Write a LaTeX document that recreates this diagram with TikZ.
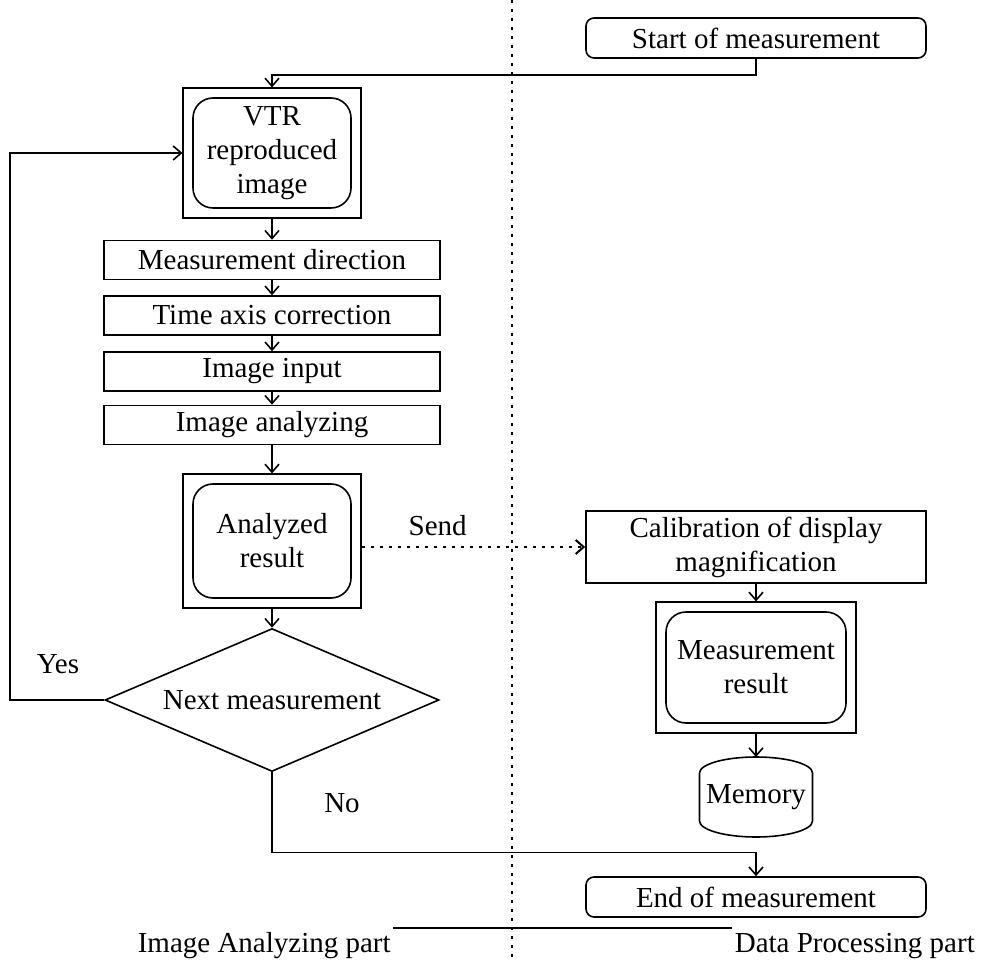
\documentclass[tikz,border=0pt]{standalone}
\usepackage{fontspec}
\setmainfont{Liberation Serif}
\usetikzlibrary{shapes.geometric,arrows.meta,fit}

\begin{document}
\begin{tikzpicture}[x=0.5pt,y=-0.5pt,
	font=\fontsize{14.5pt}{17pt}\selectfont,
	line width=0.8pt, >={Straight Barb[length=4pt,width=7pt]},
	proc/.style={draw,rectangle,minimum width=168pt,minimum height=19.5pt,inner sep=0pt},
	term/.style={draw,rounded corners=4pt,minimum width=170pt,minimum height=20pt,inner sep=0pt},
	res/.style={draw,rounded corners=10pt,align=center,inner sep=0pt},
	frame/.style={draw,rectangle,inner sep=4.4pt,line width=1pt},
	dotline/.style={dash pattern=on 1.5pt off 3pt,line width=1pt}]
			\useasboundingbox (0,0) rectangle (983,961);
			\draw[dotline] (512,0) coordinate (divtop) -- (512,961) coordinate (divbot);
			% left part
			\node[term] (start) at (756,38) {Start of measurement};
			\node[res,minimum width=79pt,minimum height=55pt] (vtr) at (272,153) {VTR\\reproduced\\image};
			\node[frame,fit=(vtr)] (vtrf) {};
			\node[proc] (md) at (272,260) {Measurement direction};
			\node[proc] (ta) at (272,315.5) {Time axis correction};
			\node[proc] (ii) at (272,371.5) {Image input};
			\node[proc] (ia) at (272,425) {Image analyzing};
			\node[res,minimum width=79pt,minimum height=57pt] (ar) at (272,541) {Analyzed\\result};
			\node[frame,fit=(ar)] (arf) {};
			\node[draw,diamond,aspect=2.33,inner sep=0pt,minimum width=167pt,minimum height=71.5pt] (next) at (272,700) {Next measurement};
			\node (yeslbl) at (58,664) {Yes};
			\node (nolbl) at (342,803) {No};
			% right part
			\node[draw,rectangle,align=center,minimum width=170pt,minimum height=36pt,inner sep=0pt] (cal) at (756,547) {Calibration of display\\magnification};
			\node[res,minimum width=90pt,minimum height=55.5pt] (mr) at (756,667.5) {Measurement\\result};
			\node[frame,fit=(mr)] (mrf) {};
			\node[minimum width=56.5pt,minimum height=24pt,inner sep=0pt,outer sep=0pt] (mem) at (756,797) {Memory};
			\draw (mem.north west) -- (mem.south west) arc[start angle=180,end angle=360,x radius=28.25pt,y radius=8pt]
				-- (mem.north east) arc[start angle=0,end angle=180,x radius=28.25pt,y radius=8pt];
			\node[term] (end) at (756,897) {End of measurement};
			\node[anchor=base west,inner sep=1pt] (iapart) at (135,952) {Image Analyzing part};
			\node[anchor=base west,inner sep=1pt] (dppart) at (732,952) {Data Processing part};
			% connectors
			\coordinate (yesc) at (10,700);
			\coordinate (partc) at (0,928);
			\draw[->] (start.south) -- ++(0,16) -| (vtrf.north);
			\draw[->] (vtrf.south) -- (md.north);
			\draw[->] (md.south) -- (ta.north);
			\draw[->] (ta.south) -- (ii.north);
			\draw[->] (ii.south) -- (ia.north);
			\draw[->] (ia.south) -- (arf.north);
			\draw[->] (arf.south) -- (next.north);
			\draw[->] (next.west) -- (yesc) |- (vtrf.west);
			\draw[->] (next.south) -- ++(0,80) -| (end.north);
			\draw[->,dotline] (arf.east |- cal.west) -- (cal.west) node[pos=0.34,above=2pt] (send) {Send};
			\draw[->] (cal.south) -- (mrf.north);
			\draw[->] (mrf.south) -- ([yshift=8pt]mem.north);
			\draw (iapart.east |- partc) -- (dppart.west |- partc);
			\end{tikzpicture}
\end{document}
